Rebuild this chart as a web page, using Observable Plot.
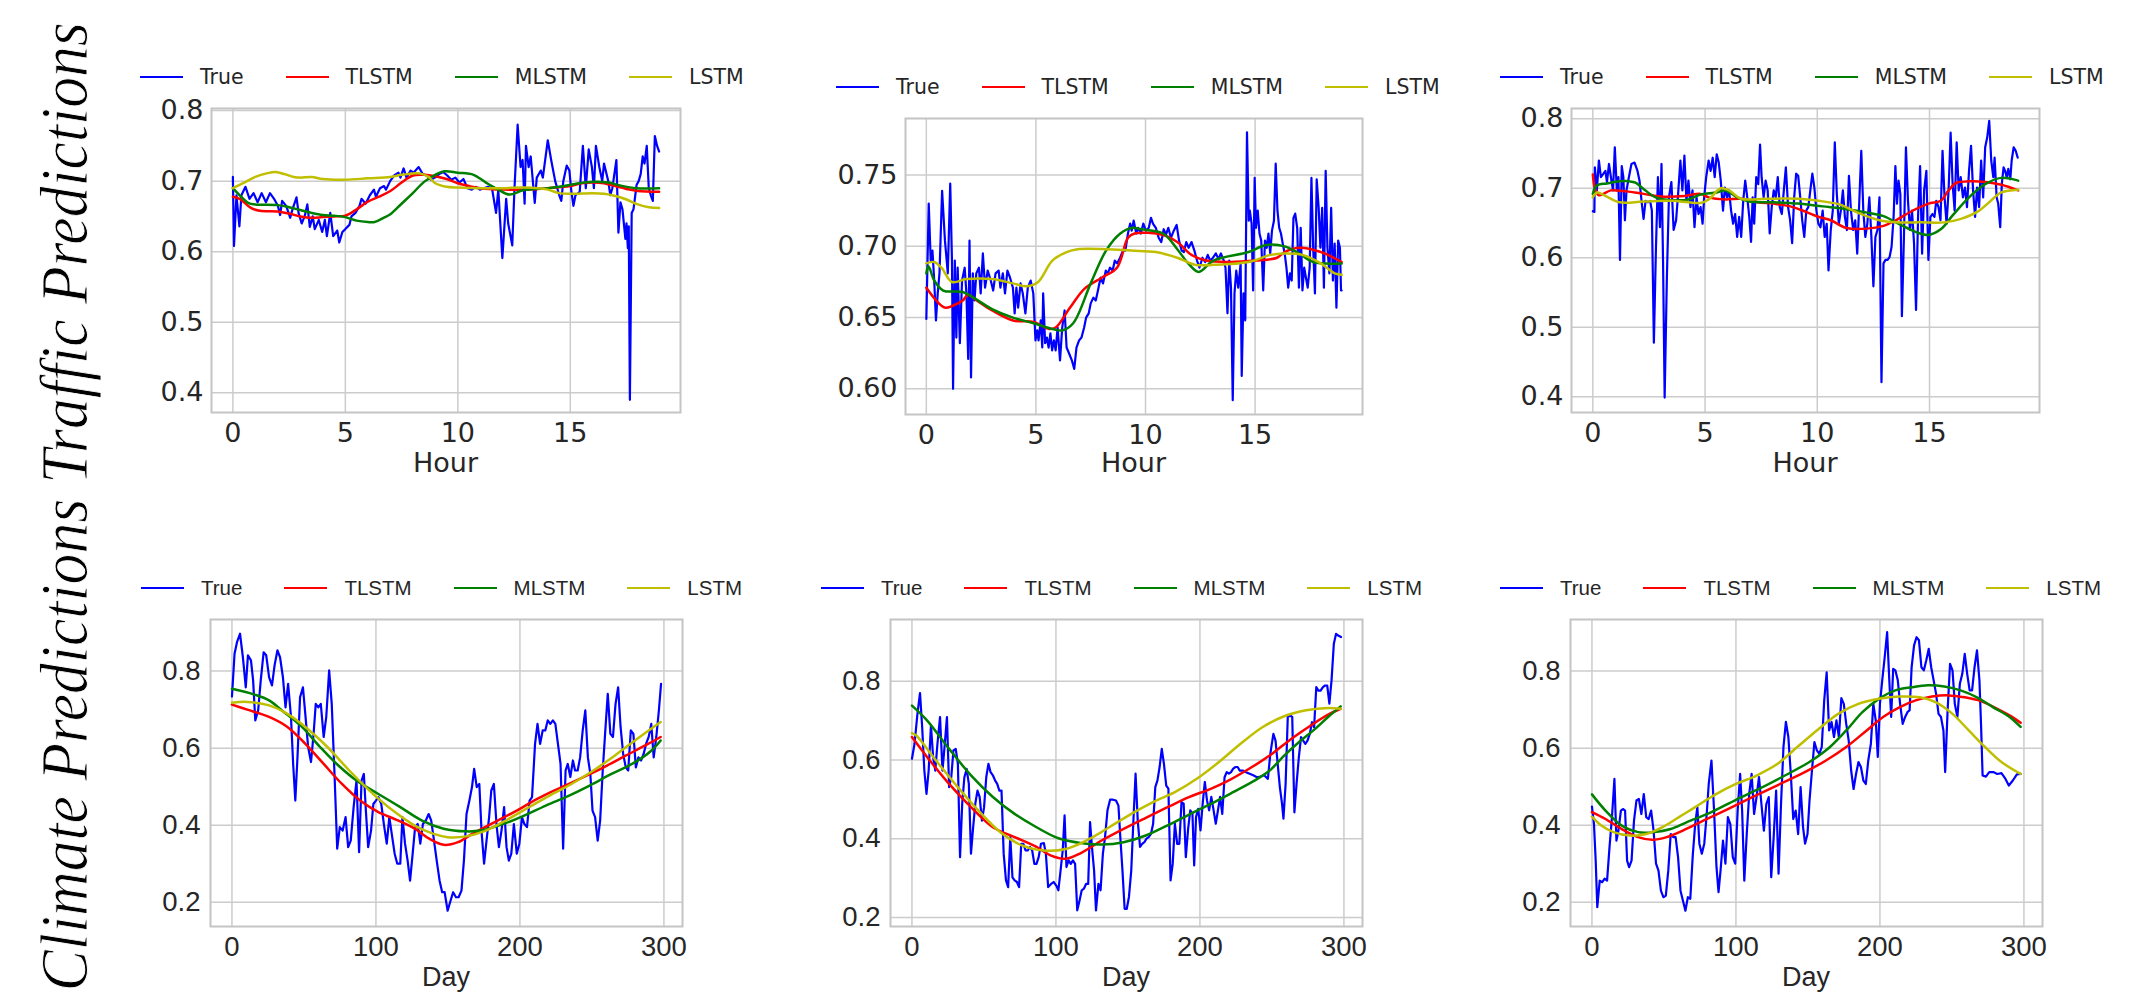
<!DOCTYPE html>
<html>
<head>
<meta charset="utf-8">
<script src="https://cdn.jsdelivr.net/npm/d3@7"></script>
<script src="https://cdn.jsdelivr.net/npm/@observablehq/plot@0.6"></script>
<style>
  html, body { margin: 0; padding: 0; background: #ffffff; }
  #page { position: relative; width: 2131px; height: 993px; overflow: hidden; background: #ffffff; }
</style>
</head>
<body>
<div id="page"></div>
<script>
// ---------------- labels / ticks ----------------
const rowTitles = ["Traffic Predictions", "Climate Predictions"];
const seriesNames = ["True", "TLSTM", "MLSTM", "LSTM"];
const seriesColors = ["#0000ff", "#ff0000", "#008000", "#bfbf00"];
const trafficXLabel = "Hour";
const climateXLabel = "Day";
const trafficXTicks = [0, 5, 10, 15];
const climateXTicks = [0, 100, 200, 300];
const traffic1YTicks = [0.4, 0.5, 0.6, 0.7, 0.8];
const traffic2YTicks = [0.60, 0.65, 0.70, 0.75];
const traffic3YTicks = [0.4, 0.5, 0.6, 0.7, 0.8];
const climateYTicks = [0.2, 0.4, 0.6, 0.8];

// ---------------- traffic panel 1 ----------------
const traffic1True = [[0,0.706],[0.05,0.608],[0.16,0.68],[0.29,0.636],[0.38,0.68],[0.56,0.692],[0.74,0.675],[0.92,0.683],[1.1,0.67],[1.28,0.683],[1.47,0.67],[1.65,0.683],[1.83,0.675],[2.0,0.665],[2.1,0.652],[2.19,0.672],[2.37,0.665],[2.55,0.648],[2.65,0.66],[2.83,0.677],[2.92,0.655],[3.06,0.64],[3.19,0.65],[3.31,0.667],[3.42,0.635],[3.55,0.65],[3.64,0.632],[3.82,0.645],[3.97,0.628],[4.09,0.645],[4.18,0.622],[4.33,0.655],[4.46,0.622],[4.64,0.63],[4.73,0.613],[4.87,0.628],[5.0,0.632],[5.18,0.638],[5.27,0.65],[5.45,0.655],[5.63,0.665],[5.72,0.675],[5.9,0.668],[6.09,0.68],[6.27,0.688],[6.36,0.678],[6.54,0.69],[6.72,0.693],[6.81,0.688],[6.99,0.7],[7.17,0.708],[7.36,0.712],[7.45,0.705],[7.59,0.718],[7.72,0.705],[7.9,0.715],[8.03,0.712],[8.26,0.72],[8.44,0.71],[8.62,0.708],[8.8,0.702],[8.98,0.705],[9.17,0.71],[9.35,0.713],[9.53,0.708],[9.71,0.702],[9.89,0.705],[10.07,0.698],[10.25,0.703],[10.43,0.69],[10.62,0.688],[10.8,0.692],[10.98,0.688],[11.16,0.69],[11.34,0.692],[11.52,0.69],[11.7,0.655],[11.8,0.688],[11.98,0.591],[12.15,0.675],[12.24,0.64],[12.42,0.609],[12.52,0.69],[12.66,0.78],[12.79,0.72],[12.88,0.73],[12.97,0.668],[13.03,0.75],[13.15,0.72],[13.24,0.735],[13.42,0.669],[13.51,0.705],[13.69,0.715],[13.78,0.705],[14.0,0.758],[14.15,0.73],[14.33,0.7],[14.51,0.68],[14.6,0.672],[14.69,0.7],[14.84,0.722],[14.96,0.715],[15.05,0.685],[15.14,0.665],[15.23,0.68],[15.42,0.685],[15.56,0.75],[15.69,0.69],[15.82,0.745],[15.96,0.72],[16.05,0.69],[16.14,0.75],[16.29,0.72],[16.42,0.7],[16.5,0.725],[16.69,0.7],[16.78,0.68],[16.87,0.69],[17.05,0.73],[17.14,0.627],[17.23,0.67],[17.32,0.66],[17.45,0.618],[17.5,0.64],[17.56,0.605],[17.6,0.636],[17.65,0.39],[17.73,0.655],[17.81,0.66],[17.95,0.695],[18.04,0.70],[18.13,0.71],[18.22,0.735],[18.3,0.725],[18.4,0.75],[18.49,0.69],[18.58,0.68],[18.67,0.672],[18.76,0.764],[18.86,0.75],[18.95,0.742]];
const traffic1TLSTM = [[0,0.678],[0.3,0.675],[0.8,0.662],[1.2,0.658],[2.0,0.657],[2.5,0.654],[3.0,0.65],[3.5,0.648],[4.0,0.649],[4.5,0.65],[5.0,0.651],[5.5,0.66],[6.0,0.671],[6.5,0.678],[7.0,0.686],[7.5,0.698],[8.0,0.708],[8.5,0.709],[9.0,0.707],[9.5,0.703],[10.0,0.697],[10.5,0.693],[11.0,0.69],[12.0,0.688],[13.0,0.688],[14.0,0.69],[15.0,0.693],[15.5,0.697],[16.0,0.698],[16.5,0.697],[17.0,0.693],[17.5,0.689],[18.0,0.686],[18.95,0.685]];
const traffic1MLSTM = [[0,0.69],[0.3,0.68],[0.7,0.669],[1.0,0.667],[2.0,0.666],[2.5,0.663],[3.0,0.659],[3.5,0.655],[4.0,0.652],[4.5,0.651],[5.0,0.649],[5.5,0.644],[6.0,0.642],[6.3,0.642],[6.7,0.648],[7.0,0.653],[7.5,0.668],[8.0,0.683],[8.5,0.699],[9.0,0.709],[9.4,0.714],[10.0,0.712],[10.7,0.709],[11.25,0.698],[11.8,0.688],[12.3,0.681],[12.9,0.687],[14.0,0.69],[14.5,0.692],[15.4,0.697],[16.0,0.699],[16.7,0.698],[17.2,0.694],[17.95,0.69],[18.95,0.69]];
const traffic1LSTM = [[0,0.69],[0.5,0.698],[1.0,0.706],[1.5,0.711],[1.9,0.713],[2.3,0.71],[2.7,0.706],[3.0,0.705],[3.5,0.706],[4.0,0.703],[5.0,0.702],[6.0,0.704],[7.0,0.706],[7.5,0.709],[8.0,0.711],[8.3,0.711],[8.7,0.706],[9.0,0.697],[9.5,0.692],[10.0,0.691],[11.0,0.69],[12.0,0.69],[13.0,0.691],[14.0,0.688],[14.5,0.683],[15.0,0.682],[16.0,0.683],[16.5,0.682],[17.0,0.679],[17.5,0.674],[18.0,0.667],[18.5,0.663],[18.95,0.662]];

// ---------------- traffic panel 2 ----------------
const traffic2True = [[0,0.649],[0.03,0.671],[0.11,0.73],[0.2,0.69],[0.28,0.697],[0.36,0.676],[0.44,0.648],[0.52,0.667],[0.6,0.681],[0.72,0.739],[0.85,0.704],[0.98,0.681],[1.09,0.744],[1.17,0.69],[1.22,0.6],[1.3,0.69],[1.37,0.636],[1.43,0.685],[1.53,0.632],[1.63,0.676],[1.75,0.685],[1.83,0.667],[1.91,0.621],[1.97,0.704],[2.04,0.608],[2.12,0.681],[2.2,0.662],[2.28,0.681],[2.4,0.685],[2.48,0.667],[2.58,0.695],[2.68,0.671],[2.8,0.683],[2.94,0.676],[3.05,0.669],[3.16,0.681],[3.3,0.683],[3.38,0.671],[3.49,0.681],[3.59,0.667],[3.7,0.683],[3.82,0.678],[3.95,0.671],[4.03,0.653],[4.11,0.671],[4.19,0.657],[4.3,0.674],[4.4,0.667],[4.52,0.653],[4.63,0.671],[4.76,0.676],[4.88,0.667],[4.98,0.634],[5.06,0.641],[5.12,0.634],[5.22,0.648],[5.29,0.629],[5.33,0.667],[5.42,0.632],[5.5,0.636],[5.58,0.629],[5.66,0.639],[5.74,0.627],[5.82,0.634],[5.9,0.627],[5.99,0.643],[6.1,0.62],[6.2,0.643],[6.31,0.655],[6.4,0.629],[6.51,0.625],[6.64,0.62],[6.75,0.614],[6.85,0.629],[6.97,0.634],[7.08,0.636],[7.2,0.643],[7.29,0.65],[7.41,0.653],[7.5,0.66],[7.62,0.664],[7.73,0.662],[7.83,0.669],[7.95,0.678],[8.06,0.674],[8.19,0.683],[8.28,0.681],[8.38,0.685],[8.5,0.683],[8.6,0.69],[8.7,0.688],[8.84,0.692],[8.97,0.697],[9.08,0.697],[9.2,0.709],[9.3,0.716],[9.37,0.711],[9.46,0.718],[9.58,0.709],[9.66,0.713],[9.79,0.709],[9.9,0.716],[10.02,0.711],[10.15,0.713],[10.25,0.72],[10.34,0.716],[10.47,0.713],[10.6,0.706],[10.72,0.703],[10.83,0.712],[10.93,0.708],[11.04,0.713],[11.16,0.706],[11.29,0.711],[11.42,0.715],[11.53,0.704],[11.65,0.697],[11.75,0.696],[11.86,0.703],[11.97,0.699],[12.1,0.703],[12.23,0.697],[12.35,0.69],[12.46,0.685],[12.6,0.692],[12.72,0.689],[12.84,0.694],[12.95,0.69],[13.08,0.692],[13.21,0.695],[13.33,0.691],[13.44,0.695],[13.57,0.69],[13.65,0.685],[13.74,0.653],[13.82,0.69],[13.9,0.671],[13.98,0.592],[14.06,0.667],[14.14,0.683],[14.23,0.671],[14.34,0.688],[14.39,0.609],[14.47,0.667],[14.55,0.648],[14.63,0.78],[14.71,0.718],[14.76,0.725],[14.84,0.716],[14.91,0.669],[14.98,0.748],[15.04,0.713],[15.12,0.725],[15.2,0.709],[15.28,0.704],[15.37,0.669],[15.45,0.704],[15.53,0.699],[15.61,0.709],[15.69,0.695],[15.77,0.711],[15.86,0.718],[15.94,0.758],[16.02,0.725],[16.1,0.713],[16.18,0.709],[16.26,0.702],[16.35,0.695],[16.43,0.685],[16.51,0.671],[16.59,0.681],[16.67,0.676],[16.75,0.72],[16.83,0.723],[16.92,0.713],[17.0,0.671],[17.08,0.713],[17.16,0.669],[17.24,0.685],[17.32,0.678],[17.4,0.671],[17.49,0.685],[17.57,0.748],[17.65,0.699],[17.73,0.667],[17.81,0.747],[17.9,0.727],[17.98,0.699],[18.06,0.727],[18.14,0.671],[18.22,0.753],[18.3,0.699],[18.39,0.681],[18.47,0.727],[18.55,0.676],[18.63,0.702],[18.71,0.657],[18.79,0.704],[18.87,0.699],[18.92,0.669],[18.95,0.669]];
const traffic2TLSTM = [[0,0.671],[0.85,0.657],[1.3,0.659],[1.66,0.662],[1.9,0.666],[2.3,0.662],[3.0,0.655],[3.95,0.648],[4.9,0.647],[5.6,0.642],[5.9,0.643],[6.56,0.657],[7.2,0.67],[8.0,0.678],[8.7,0.685],[9.2,0.706],[9.5,0.709],[10.8,0.708],[11.45,0.703],[12.1,0.694],[12.75,0.69],[13.9,0.689],[15.0,0.69],[16.0,0.692],[16.35,0.696],[17.0,0.699],[18.0,0.696],[18.95,0.689]];
const traffic2MLSTM = [[0,0.681],[0.1,0.686],[0.36,0.676],[0.77,0.669],[1.66,0.668],[2.15,0.664],[3.0,0.656],[3.95,0.65],[4.9,0.646],[5.75,0.642],[6.2,0.641],[6.7,0.646],[7.5,0.674],[8.2,0.697],[8.85,0.709],[9.4,0.713],[9.8,0.712],[10.8,0.709],[11.45,0.698],[11.95,0.688],[12.43,0.682],[13.1,0.69],[14.7,0.696],[15.5,0.701],[16.35,0.7],[17.0,0.695],[17.65,0.689],[18.95,0.688]];
const traffic2LSTM = [[0,0.688],[0.36,0.689],[0.69,0.685],[1.17,0.675],[1.83,0.677],[3.0,0.677],[3.95,0.674],[4.6,0.672],[5.1,0.675],[5.75,0.69],[6.4,0.696],[6.9,0.698],[8.2,0.698],[9.33,0.697],[10.47,0.696],[11.45,0.692],[12.27,0.687],[13.1,0.687],[14.7,0.689],[15.7,0.694],[16.35,0.695],[17.16,0.694],[18.0,0.688],[18.63,0.681],[18.95,0.68]];

// ---------------- traffic panel 3 ----------------
const traffic3True = [[0,0.667],[0.07,0.666],[0.09,0.73],[0.18,0.697],[0.27,0.74],[0.36,0.716],[0.45,0.72],[0.56,0.725],[0.63,0.709],[0.72,0.735],[0.82,0.713],[0.9,0.697],[0.98,0.759],[1.07,0.697],[1.14,0.716],[1.21,0.597],[1.29,0.732],[1.36,0.716],[1.43,0.654],[1.5,0.697],[1.59,0.713],[1.72,0.735],[1.86,0.737],[1.99,0.725],[2.08,0.711],[2.17,0.682],[2.26,0.656],[2.35,0.682],[2.45,0.68],[2.55,0.682],[2.63,0.668],[2.72,0.478],[2.81,0.611],[2.9,0.716],[2.99,0.644],[3.06,0.735],[3.13,0.592],[3.2,0.399],[3.3,0.573],[3.39,0.687],[3.5,0.709],[3.6,0.64],[3.71,0.654],[3.8,0.692],[3.9,0.74],[3.99,0.697],[4.08,0.747],[4.17,0.682],[4.26,0.711],[4.35,0.673],[4.44,0.697],[4.53,0.644],[4.62,0.687],[4.71,0.663],[4.8,0.673],[4.89,0.649],[4.96,0.687],[5.05,0.716],[5.16,0.74],[5.25,0.725],[5.34,0.744],[5.43,0.716],[5.52,0.749],[5.61,0.737],[5.7,0.711],[5.8,0.668],[5.88,0.701],[5.98,0.687],[6.07,0.697],[6.16,0.668],[6.25,0.649],[6.34,0.663],[6.43,0.63],[6.52,0.659],[6.61,0.63],[6.7,0.682],[6.79,0.711],[6.88,0.687],[6.97,0.659],[7.05,0.623],[7.12,0.687],[7.19,0.649],[7.28,0.716],[7.37,0.706],[7.45,0.763],[7.52,0.716],[7.61,0.687],[7.7,0.711],[7.79,0.697],[7.88,0.635],[7.97,0.673],[8.06,0.697],[8.15,0.687],[8.24,0.716],[8.33,0.673],[8.42,0.663],[8.51,0.697],[8.6,0.73],[8.7,0.673],[8.79,0.654],[8.88,0.621],[8.97,0.687],[9.06,0.721],[9.15,0.718],[9.24,0.687],[9.33,0.654],[9.42,0.63],[9.51,0.668],[9.6,0.673],[9.69,0.697],[9.78,0.721],[9.87,0.701],[9.96,0.668],[10.05,0.649],[10.14,0.644],[10.24,0.668],[10.33,0.63],[10.42,0.649],[10.5,0.582],[10.6,0.64],[10.69,0.668],[10.78,0.766],[10.87,0.692],[10.96,0.649],[11.05,0.668],[11.14,0.697],[11.23,0.659],[11.32,0.64],[11.41,0.718],[11.5,0.668],[11.6,0.64],[11.69,0.654],[11.78,0.606],[11.87,0.68],[11.96,0.754],[12.05,0.668],[12.14,0.63],[12.23,0.649],[12.32,0.687],[12.41,0.63],[12.5,0.559],[12.59,0.63],[12.68,0.64],[12.77,0.687],[12.86,0.421],[12.95,0.592],[13.04,0.597],[13.13,0.597],[13.22,0.601],[13.31,0.616],[13.4,0.659],[13.48,0.732],[13.55,0.678],[13.62,0.711],[13.7,0.692],[13.77,0.516],[13.86,0.63],[13.95,0.759],[14.04,0.682],[14.13,0.64],[14.22,0.668],[14.31,0.621],[14.4,0.525],[14.49,0.659],[14.58,0.732],[14.67,0.606],[14.76,0.697],[14.86,0.725],[14.95,0.597],[15.04,0.659],[15.13,0.663],[15.22,0.659],[15.3,0.682],[15.4,0.673],[15.49,0.654],[15.58,0.754],[15.67,0.687],[15.76,0.649],[15.85,0.697],[15.94,0.78],[16.03,0.706],[16.12,0.668],[16.21,0.766],[16.3,0.697],[16.39,0.716],[16.49,0.687],[16.58,0.701],[16.67,0.673],[16.76,0.725],[16.85,0.761],[16.94,0.697],[17.03,0.659],[17.12,0.701],[17.21,0.673],[17.3,0.74],[17.39,0.687],[17.48,0.759],[17.57,0.773],[17.66,0.797],[17.75,0.74],[17.84,0.716],[17.9,0.744],[17.99,0.687],[18.06,0.678],[18.15,0.644],[18.22,0.706],[18.3,0.73],[18.37,0.725],[18.44,0.716],[18.51,0.728],[18.6,0.713],[18.66,0.74],[18.75,0.759],[18.84,0.754],[18.93,0.744]];
const traffic3TLSTM = [[0,0.72],[0.09,0.701],[0.27,0.69],[0.8,0.697],[1.36,0.696],[2.26,0.692],[3.17,0.688],[4.08,0.689],[4.8,0.692],[5.16,0.687],[5.9,0.684],[6.6,0.685],[7.34,0.68],[8.06,0.678],[8.8,0.674],[9.5,0.666],[10.05,0.659],[10.6,0.654],[11.3,0.643],[12.2,0.642],[12.95,0.646],[13.5,0.654],[14.2,0.667],[14.95,0.678],[15.5,0.682],[15.85,0.697],[16.2,0.708],[16.76,0.71],[17.5,0.709],[18.2,0.705],[18.95,0.697]];
const traffic3MLSTM = [[0,0.692],[0.18,0.704],[0.63,0.707],[1.18,0.71],[1.63,0.71],[1.9,0.708],[2.26,0.699],[2.8,0.687],[3.53,0.683],[4.26,0.684],[4.8,0.691],[5.52,0.694],[5.9,0.697],[6.43,0.687],[6.97,0.681],[8.06,0.68],[9.15,0.678],[10.24,0.674],[11.32,0.67],[12.23,0.665],[12.95,0.66],[13.68,0.648],[14.4,0.637],[14.95,0.633],[15.5,0.641],[16.03,0.661],[16.76,0.687],[17.48,0.706],[18.2,0.715],[18.95,0.711]];
const traffic3LSTM = [[0,0.687],[0.18,0.694],[0.45,0.691],[1.18,0.68],[2.26,0.681],[3.53,0.682],[4.26,0.68],[4.8,0.679],[5.16,0.684],[5.7,0.7],[6.07,0.697],[6.6,0.685],[7.7,0.685],[9.15,0.685],[10.05,0.682],[10.96,0.677],[11.87,0.664],[12.77,0.654],[13.5,0.651],[14.58,0.651],[15.67,0.651],[16.4,0.656],[17.12,0.666],[17.66,0.68],[18.2,0.694],[18.95,0.698]];

// ---------------- climate panel 1 ----------------
const climate1True = [[0,0.734],[1.8,0.845],[3.5,0.875],[5.6,0.897],[7.6,0.836],[9.6,0.758],[11.1,0.841],[13.2,0.828],[14.7,0.776],[16.2,0.672],[18.2,0.698],[20,0.776],[22,0.849],[23.8,0.841],[25.8,0.784],[27.8,0.763],[29.6,0.815],[31.6,0.854],[33.4,0.836],[35.4,0.784],[37.2,0.706],[39,0.767],[41,0.681],[42.5,0.559],[44,0.464],[45.5,0.576],[47.3,0.732],[49.3,0.758],[51.1,0.681],[52.9,0.603],[54.9,0.564],[56.7,0.637],[58.2,0.715],[60,0.706],[61.7,0.715],[63.7,0.629],[65.5,0.681],[67.5,0.802],[69.3,0.715],[71.3,0.525],[73.1,0.339],[74.9,0.395],[76.9,0.386],[78.9,0.421],[80.7,0.343],[82.5,0.36],[84.5,0.447],[86.5,0.516],[88.3,0.33],[90,0.516],[91.6,0.533],[93,0.438],[94.6,0.343],[96.6,0.386],[98.2,0.455],[100,0.464],[101.7,0.473],[103.7,0.455],[105.5,0.403],[107.5,0.352],[109.3,0.421],[111.3,0.369],[113,0.326],[114.8,0.3],[116.9,0.3],[118.4,0.421],[120.2,0.352],[122,0.308],[123.7,0.256],[125.5,0.326],[127.2,0.395],[129,0.403],[130.8,0.352],[132.6,0.403],[134.6,0.412],[136.6,0.429],[138.4,0.412],[140,0.369],[142.2,0.308],[144.2,0.256],[146,0.226],[147.7,0.226],[149.8,0.178],[151.8,0.204],[153.6,0.226],[155.6,0.213],[157.4,0.213],[159.4,0.23],[161.1,0.308],[162.9,0.429],[164.9,0.464],[166.7,0.499],[168.2,0.546],[170,0.499],[171.8,0.507],[173.3,0.386],[175.1,0.3],[176.8,0.36],[178.6,0.421],[180.1,0.49],[181.9,0.507],[183.7,0.403],[185.4,0.343],[187.2,0.386],[189,0.447],[190.7,0.343],[192.3,0.308],[194,0.326],[195.8,0.403],[197.8,0.326],[199.6,0.352],[201.4,0.421],[203.1,0.403],[204.9,0.395],[206.7,0.464],[208.4,0.473],[210.5,0.611],[212.2,0.663],[214,0.611],[215.8,0.646],[217.6,0.646],[219.3,0.672],[221.1,0.663],[222.9,0.672],[224.6,0.663],[226.4,0.611],[228.2,0.559],[230,0.339],[231.7,0.542],[233.2,0.559],[235,0.525],[236.8,0.568],[238.3,0.542],[240.1,0.542],[241.8,0.576],[243.6,0.646],[245.4,0.698],[247.2,0.576],[248.9,0.533],[250.4,0.438],[252.2,0.421],[254,0.36],[255.7,0.412],[257.5,0.542],[259.3,0.646],[261,0.741],[262.8,0.637],[264.6,0.629],[266.4,0.715],[268.2,0.758],[269.9,0.655],[271.7,0.585],[273.5,0.55],[275.2,0.542],[277,0.646],[278.8,0.637],[280.5,0.55],[282.3,0.576],[284.1,0.568],[285.9,0.585],[287.6,0.611],[289.4,0.629],[291.2,0.663],[292.9,0.576],[294.7,0.629],[296.5,0.698],[298,0.767]];
const climate1TLSTM = [[0,0.713],[10.6,0.7],[25.8,0.681],[38.5,0.655],[51,0.611],[63.7,0.559],[76.4,0.507],[89,0.464],[101.7,0.434],[114.3,0.414],[127,0.391],[137,0.365],[147,0.349],[157,0.356],[167.5,0.379],[182.6,0.408],[197.8,0.438],[213,0.47],[228,0.497],[243,0.523],[258.5,0.551],[273.7,0.581],[289,0.611],[297.7,0.629]];
const climate1MLSTM = [[0,0.754],[15.7,0.739],[25.8,0.724],[36,0.694],[48.6,0.655],[61.2,0.603],[73.9,0.555],[86.5,0.516],[101.7,0.481],[116.9,0.447],[132,0.412],[147,0.391],[162.4,0.384],[172.5,0.386],[187.7,0.402],[202.9,0.425],[218,0.451],[233,0.475],[248.4,0.503],[263.6,0.533],[278.8,0.561],[291.4,0.594],[297.7,0.62]];
const climate1LSTM = [[0,0.718],[10.6,0.72],[25.8,0.711],[38.5,0.689],[51,0.655],[66.3,0.603],[81.5,0.542],[96.6,0.486],[111.8,0.438],[127,0.399],[139.6,0.378],[149.8,0.369],[162.4,0.371],[175,0.384],[190,0.412],[205.4,0.445],[220.6,0.477],[235.8,0.507],[251,0.542],[266,0.581],[281.3,0.624],[297.7,0.668]];

// ---------------- climate panel 2 ----------------
const climate2True = [[0,0.603],[1.8,0.641],[3.8,0.717],[5.6,0.77],[7.1,0.683],[8.6,0.573],[10.1,0.514],[11.6,0.573],[13.2,0.688],[14.7,0.607],[16.2,0.573],[17.7,0.641],[19.5,0.709],[21.2,0.573],[22.8,0.641],[24.3,0.709],[25.8,0.531],[27.3,0.556],[28.8,0.624],[30.4,0.628],[31.9,0.59],[33.4,0.353],[34.9,0.489],[36.4,0.556],[38,0.577],[39.5,0.539],[41,0.362],[42.5,0.429],[44,0.489],[45.5,0.522],[47,0.506],[48.6,0.446],[50.1,0.48],[51.6,0.556],[53.1,0.59],[54.6,0.569],[56.2,0.561],[57.7,0.548],[59.2,0.539],[60.7,0.522],[62.2,0.522],[63.7,0.362],[65.3,0.294],[66.8,0.277],[68.3,0.404],[69.8,0.302],[71.3,0.294],[72.9,0.29],[74.4,0.277],[75.9,0.387],[77.4,0.387],[78.9,0.37],[80.4,0.37],[82,0.379],[83.5,0.37],[85,0.336],[86.5,0.336],[88,0.353],[89.6,0.387],[91.6,0.389],[93,0.362],[94.6,0.277],[96.6,0.285],[98.4,0.29],[100.2,0.281],[101.7,0.269],[103.2,0.319],[104.7,0.37],[106,0.459],[107.3,0.328],[108.8,0.345],[110.3,0.336],[111.8,0.345],[113.3,0.336],[114.8,0.218],[116.4,0.243],[117.9,0.269],[119.4,0.273],[120.9,0.285],[122.4,0.285],[123.7,0.442],[125,0.379],[126.5,0.319],[127.8,0.218],[129.5,0.285],[131,0.269],[132.6,0.362],[134.1,0.404],[135.8,0.472],[137.6,0.499],[139.6,0.499],[141.7,0.497],[143.4,0.484],[144.7,0.404],[146.2,0.319],[147.7,0.222],[149.2,0.222],[150.7,0.252],[152.3,0.319],[153.8,0.446],[155.3,0.565],[156.8,0.446],[158.4,0.379],[159.9,0.387],[161.4,0.391],[162.9,0.4],[164.4,0.404],[166,0.412],[167.5,0.438],[169,0.531],[170.5,0.548],[172,0.582],[173.5,0.628],[175,0.59],[176.6,0.535],[178.1,0.527],[179.6,0.294],[181.1,0.336],[182.6,0.438],[184.2,0.387],[185.7,0.387],[187.2,0.493],[188.7,0.489],[190.2,0.353],[191.8,0.425],[193.3,0.472],[194.8,0.463],[196,0.332],[197.3,0.455],[198.8,0.476],[200.4,0.421],[201.9,0.489],[203.4,0.544],[204.9,0.497],[206.4,0.472],[207.9,0.506],[209.5,0.472],[211,0.438],[212.5,0.472],[214,0.506],[215.5,0.463],[217.1,0.556],[218.6,0.569],[220.1,0.565],[221.6,0.569],[223.1,0.578],[224.7,0.582],[226.2,0.582],[227.7,0.573],[229.7,0.573],[232,0.569],[234.5,0.565],[237,0.561],[239.6,0.556],[242.1,0.558],[244.6,0.561],[247.2,0.552],[248.9,0.616],[251,0.666],[252.5,0.649],[254,0.59],[255.5,0.531],[257,0.489],[258,0.451],[259.5,0.539],[261,0.709],[262.6,0.713],[264.1,0.709],[265.6,0.467],[267.1,0.539],[268.7,0.607],[270.2,0.658],[271.7,0.649],[273.2,0.641],[274.7,0.649],[276.3,0.666],[277.8,0.696],[279.3,0.683],[280.8,0.785],[282.3,0.776],[283.8,0.776],[285.4,0.785],[286.9,0.789],[288.4,0.789],[289.9,0.743],[291.4,0.802],[293,0.895],[294.5,0.92],[296,0.916],[298,0.912]];
const climate2TLSTM = [[0,0.658],[10.6,0.607],[25.8,0.539],[41,0.48],[56.2,0.429],[71.3,0.404],[86.5,0.379],[96.6,0.357],[106.8,0.349],[117,0.363],[132,0.396],[147,0.425],[162.4,0.453],[177.6,0.48],[192.8,0.506],[207.9,0.527],[218,0.544],[233,0.575],[248.4,0.611],[263.6,0.654],[278.8,0.692],[289,0.715],[297.7,0.73]];
const climate2MLSTM = [[0,0.738],[10.6,0.7],[25.8,0.628],[41,0.561],[56.2,0.506],[71.3,0.463],[86.5,0.429],[101.7,0.401],[117,0.389],[132,0.385],[147,0.391],[162.4,0.408],[177.6,0.434],[192.8,0.462],[207.9,0.489],[223,0.518],[238.2,0.548],[248.4,0.573],[258.5,0.611],[268.7,0.645],[278.8,0.675],[289,0.709],[297.7,0.736]];
const climate2LSTM = [[0,0.668],[3,0.662],[15.7,0.603],[30.9,0.535],[46,0.472],[61.2,0.417],[76.4,0.383],[91.6,0.37],[106.8,0.374],[122,0.397],[137,0.429],[152.3,0.463],[167.5,0.493],[182.6,0.518],[197.8,0.552],[213,0.594],[228.2,0.641],[243.4,0.683],[258.5,0.711],[273.7,0.726],[289,0.732],[297.7,0.73]];

// ---------------- climate panel 3 ----------------
const climate3True = [[0,0.448],[1.4,0.403],[2.6,0.308],[3.7,0.187],[5.4,0.256],[7.1,0.252],[8.8,0.261],[10.5,0.256],[12.2,0.343],[13.9,0.421],[15.6,0.52],[17,0.36],[18.4,0.386],[20.1,0.438],[21.5,0.442],[23,0.438],[24.4,0.308],[25.8,0.291],[27.5,0.308],[29.2,0.412],[30.9,0.464],[32.6,0.468],[34.3,0.429],[36,0.481],[37.7,0.421],[39.4,0.416],[41.1,0.438],[42.8,0.386],[44.5,0.3],[46.2,0.282],[47.9,0.23],[49.6,0.213],[51.3,0.217],[53,0.282],[54.7,0.377],[56.4,0.369],[58.1,0.369],[59.8,0.317],[61.5,0.23],[63.2,0.204],[64.9,0.178],[66.6,0.213],[68.3,0.209],[70,0.321],[71.7,0.403],[73.2,0.447],[74.6,0.352],[76.3,0.326],[78,0.352],[79.7,0.429],[81.1,0.507],[83,0.568],[84.8,0.438],[86.5,0.291],[87.9,0.226],[89.3,0.282],[91,0.36],[92.7,0.3],[94.4,0.421],[96.1,0.403],[97.8,0.317],[99.5,0.3],[101.2,0.438],[102.9,0.533],[104.3,0.438],[105.8,0.256],[107.5,0.377],[109.2,0.481],[110.9,0.533],[112.6,0.429],[114.3,0.473],[116,0.525],[117.7,0.455],[119.4,0.386],[121.1,0.455],[122.8,0.473],[124.5,0.265],[126.2,0.369],[127.9,0.49],[129.6,0.274],[131.3,0.455],[133,0.603],[134.7,0.668],[136.4,0.629],[138.1,0.533],[139.8,0.416],[141.5,0.438],[143.2,0.377],[144.9,0.499],[146.6,0.395],[148,0.352],[149.7,0.377],[151.1,0.464],[152.8,0.542],[154.5,0.616],[156.2,0.594],[157.9,0.585],[159.6,0.603],[161.3,0.724],[163,0.797],[164.7,0.646],[166.4,0.668],[168.1,0.629],[169.8,0.672],[171.5,0.629],[173.2,0.73],[174.9,0.715],[176.6,0.663],[178.3,0.62],[180,0.542],[181.7,0.494],[183.4,0.533],[185.1,0.564],[186.8,0.551],[188.5,0.516],[190.2,0.507],[191.9,0.568],[193.7,0.611],[195.4,0.715],[197.1,0.672],[198.5,0.577],[200,0.715],[201.6,0.776],[203.3,0.836],[205,0.901],[206.4,0.784],[207.8,0.681],[209.2,0.806],[210.7,0.802],[212.4,0.776],[214,0.715],[215.8,0.663],[217.5,0.681],[219.2,0.694],[220.6,0.698],[222,0.81],[223.7,0.867],[225.4,0.888],[227.1,0.88],[228.8,0.81],[230.5,0.802],[232.2,0.828],[233.9,0.858],[235.6,0.81],[237.3,0.776],[239,0.741],[240.7,0.689],[242.4,0.681],[244.1,0.646],[245.3,0.538],[247,0.698],[248.7,0.819],[250.4,0.802],[252,0.715],[253.8,0.681],[255.5,0.767],[257.2,0.793],[258.9,0.845],[260.6,0.793],[262.3,0.75],[264,0.75],[265.7,0.81],[267.4,0.854],[269.1,0.776],[270.2,0.663],[271.3,0.529],[273.6,0.526],[275.9,0.538],[278.7,0.538],[281.5,0.533],[284.4,0.535],[287.2,0.52],[289.5,0.503],[292.3,0.516],[295.1,0.532],[297.7,0.533]];
const climate3TLSTM = [[0,0.434],[9.4,0.416],[20.7,0.39],[32,0.369],[42,0.362],[51.9,0.369],[63.2,0.386],[77.4,0.412],[94.4,0.442],[111.4,0.473],[128.4,0.503],[145.4,0.533],[162.5,0.568],[176.6,0.603],[190.8,0.646],[202.2,0.681],[213.5,0.706],[224.8,0.724],[236.2,0.734],[247.5,0.737],[258.9,0.732],[270.2,0.722],[281.5,0.702],[290,0.685],[297.7,0.666]];
const climate3MLSTM = [[0,0.48],[9.4,0.438],[20.7,0.399],[32,0.382],[43.4,0.382],[54.7,0.39],[66,0.408],[83,0.434],[100,0.466],[117,0.496],[134,0.529],[151,0.564],[165.3,0.603],[176.6,0.646],[188,0.694],[199.3,0.728],[210.7,0.75],[222,0.758],[233.3,0.763],[244.7,0.76],[256,0.75],[267.4,0.732],[278.7,0.706],[290,0.681],[297.7,0.655]];
const climate3LSTM = [[0,0.422],[6.5,0.399],[15,0.382],[26.4,0.373],[37.7,0.377],[49,0.395],[60.4,0.421],[71.7,0.447],[85.9,0.48],[100,0.507],[114.3,0.529],[128.4,0.558],[142.6,0.603],[156.8,0.648],[171,0.689],[185,0.715],[199.3,0.728],[213.5,0.734],[227.7,0.732],[239,0.719],[250.4,0.689],[261.7,0.646],[273,0.603],[284.4,0.564],[297.7,0.533]];

// ---------------- layout helpers ----------------
const page = document.getElementById("page");

function addPanel(cfg) {
  const ml = 120, mr = 14, mt = 14, mb = 50;
  const lineMark = (vals, color, w, curve) =>
    Plot.line(vals, {x: d => d[0], y: d => d[1], stroke: color, strokeWidth: w, curve: curve, strokeLinejoin: "round"});
  const marks = [
    Plot.gridX({ticks: cfg.xTicks, stroke: "#cccccc", strokeOpacity: 1, strokeWidth: 1.5}),
    Plot.gridY({ticks: cfg.yTicks, stroke: "#cccccc", strokeOpacity: 1, strokeWidth: 1.5}),
    Plot.axisX({ticks: cfg.xTicks, tickSize: 0, tickPadding: 10, label: null, tickFormat: d => String(d), fill: "#262626"}),
    Plot.axisY({ticks: cfg.yTicks, tickSize: 0, tickPadding: cfg.yPad, label: null, tickFormat: d3.format(cfg.yFmt), fill: "#262626"}),
    lineMark(cfg.series[0], seriesColors[0], 2.2, "linear"),
    lineMark(cfg.series[1], seriesColors[1], 2.5, "catmull-rom"),
    lineMark(cfg.series[2], seriesColors[2], 2.5, "catmull-rom"),
    lineMark(cfg.series[3], seriesColors[3], 2.5, "catmull-rom"),
    Plot.frame({stroke: "#c4c4c4", strokeWidth: 2})
  ];
  const svg = Plot.plot({
    width: cfg.w + ml + mr,
    height: cfg.h + mt + mb,
    marginLeft: ml, marginRight: mr, marginTop: mt, marginBottom: mb,
    x: {domain: cfg.xDomain},
    y: {domain: cfg.yDomain},
    style: {fontFamily: cfg.font, fontSize: cfg.fontSize + "px", color: "#262626", background: "transparent", overflow: "visible"},
    marks
  });
  svg.style.position = "absolute";
  svg.style.left = (cfg.left - ml) + "px";
  svg.style.top = (cfg.top - mt) + "px";
  svg.style.maxWidth = "none";
  page.appendChild(svg);

  // x axis title
  const lab = document.createElement("div");
  lab.textContent = cfg.xLabel;
  lab.style.cssText = `position:absolute;left:${cfg.left + cfg.w / 2}px;top:${cfg.labelTop}px;transform:translateX(-50%);font-family:'${cfg.font}';font-size:${cfg.labelSize}px;line-height:1;color:#262626;white-space:nowrap;`;
  page.appendChild(lab);

  // legend
  const leg = document.createElement("div");
  leg.style.cssText = `position:absolute;left:${cfg.legendLeft}px;top:${cfg.legendY - 15}px;height:30px;display:flex;align-items:center;font-family:'${cfg.font}';font-size:20.5px;color:#262626;white-space:nowrap;`;
  seriesNames.forEach((name, i) => {
    const sw = document.createElement("span");
    sw.style.cssText = `display:inline-block;width:43px;height:2.5px;background:${seriesColors[i]};margin-right:17px;`;
    const tx = document.createElement("span");
    tx.textContent = name;
    tx.style.cssText = `line-height:30px;margin-right:${i < 3 ? 42 : 0}px;`;
    leg.appendChild(sw);
    leg.appendChild(tx);
  });
  page.appendChild(leg);
}

const trafficCommon = {xDomain: [-0.95, 19.9], xTicks: trafficXTicks, font: "DejaVu Sans", fontSize: 27, yPad: 8, xLabel: trafficXLabel, labelSize: 27, labelTop: 449, yFmt: ".1f"};
const climateCommon = {xDomain: [-14.9, 312.9], xTicks: climateXTicks, font: "Liberation Sans", fontSize: 27.5, yPad: 10, xLabel: climateXLabel, labelSize: 27, labelTop: 964, yFmt: ".1f", yTicks: climateYTicks, top: 619, w: 472, h: 307, legendY: 588};

addPanel({...trafficCommon, left: 211, top: 108, w: 469, h: 304, yDomain: [0.372, 0.803], yTicks: traffic1YTicks, legendLeft: 140, legendY: 77,
  series: [traffic1True, traffic1TLSTM, traffic1MLSTM, traffic1LSTM]});
addPanel({...trafficCommon, left: 905, top: 118, w: 457, h: 296, yDomain: [0.582, 0.7897], yTicks: traffic2YTicks, yFmt: ".2f", legendLeft: 836, legendY: 87,
  series: [traffic2True, traffic2TLSTM, traffic2MLSTM, traffic2LSTM]});
addPanel({...trafficCommon, left: 1571, top: 108, w: 468, h: 304, yDomain: [0.3775, 0.8148], yTicks: traffic3YTicks, legendLeft: 1500, legendY: 77,
  series: [traffic3True, traffic3TLSTM, traffic3MLSTM, traffic3LSTM]});
addPanel({...climateCommon, left: 210, yDomain: [0.137, 0.934], legendLeft: 141,
  series: [climate1True, climate1TLSTM, climate1MLSTM, climate1LSTM]});
addPanel({...climateCommon, left: 890, yDomain: [0.177, 0.9566], legendLeft: 821,
  series: [climate2True, climate2TLSTM, climate2MLSTM, climate2LSTM]});
addPanel({...climateCommon, left: 1570, yDomain: [0.137, 0.934], legendLeft: 1500,
  series: [climate3True, climate3TLSTM, climate3MLSTM, climate3LSTM]});

// row titles
function rowTitle(text, cx, cy) {
  const d = document.createElement("div");
  d.textContent = text;
  d.style.cssText = `position:absolute;left:${cx}px;top:${cy}px;transform:translate(-50%,-50%) rotate(-90deg) scaleX(0.92);font-family:'Liberation Serif';font-style:italic;font-size:67px;line-height:67px;white-space:nowrap;color:#000;-webkit-text-stroke:0.9px #ffffff;paint-order:normal;`;
  page.appendChild(d);
}
rowTitle(rowTitles[0], 64, 253);
rowTitle(rowTitles[1], 64, 745);
</script>
</body>
</html>
